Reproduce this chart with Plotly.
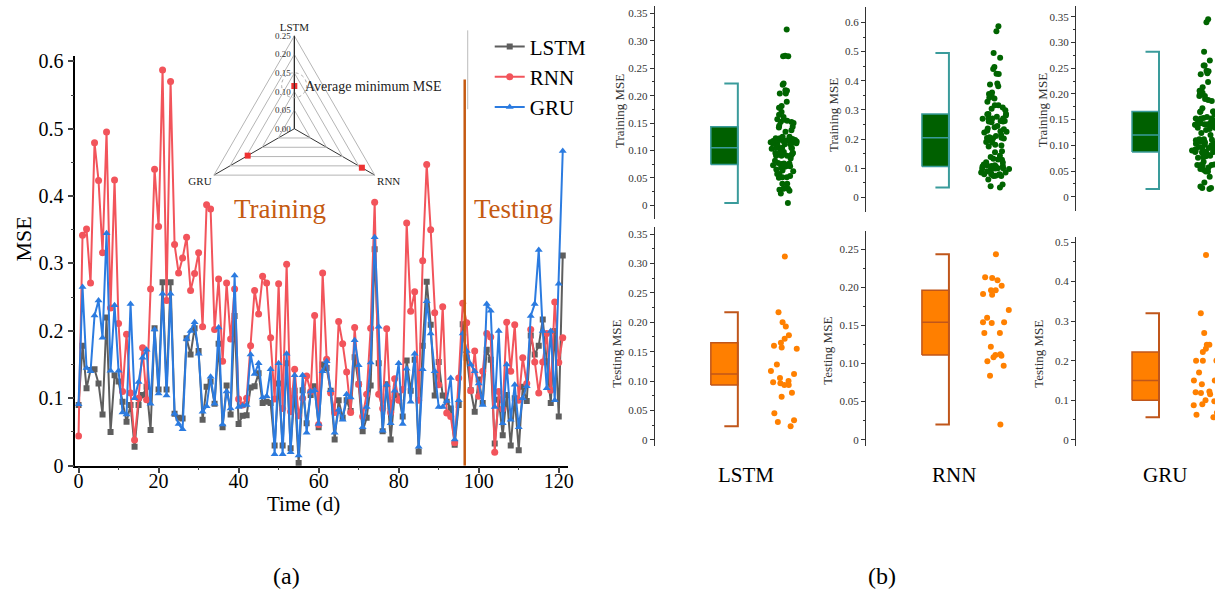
import numpy as np
import plotly.graph_objects as go

# ---------------- data ----------------
lstm_mse = [
    0.090, 0.178, 0.115, 0.142, 0.143, 0.122, 0.076, 0.220, 0.050, 0.134,
    0.125, 0.095, 0.065, 0.090, 0.028, 0.090, 0.105, 0.117, 0.053, 0.204,
    0.113, 0.272, 0.113, 0.272, 0.077, 0.071, 0.070, 0.189, 0.165, 0.204,
    0.170, 0.068, 0.117, 0.125, 0.092, 0.181, 0.057, 0.119, 0.076, 0.222,
    0.062, 0.074, 0.075, 0.116, 0.118, 0.137, 0.093, 0.095, 0.093, 0.030,
    0.122, 0.030, 0.152, 0.026, 0.111, 0.004, 0.112, 0.063, 0.105, 0.118,
    0.057, 0.150, 0.145, 0.111, 0.039, 0.097, 0.071, 0.097, 0.081, 0.161,
    0.121, 0.051, 0.071, 0.119, 0.321, 0.152, 0.051, 0.121, 0.039, 0.105,
    0.103, 0.073, 0.156, 0.111, 0.157, 0.021, 0.178, 0.273, 0.209, 0.104,
    0.154, 0.104, 0.095, 0.085, 0.031, 0.090, 0.210,
    0.160, 0.112, 0.080, 0.128, 0.093, 0.172, 0.157, 0.033, 0.098, 0.045,
    0.105, 0.030, 0.100, 0.023, 0.117, 0.096, 0.193, 0.165, 0.178, 0.217,
    0.155, 0.093, 0.200, 0.073, 0.312,
]
rnn_mse = [
    0.044, 0.342, 0.351, 0.271, 0.479, 0.423, 0.316, 0.495, 0.234, 0.424,
    0.211, 0.110, 0.195, 0.108, 0.038, 0.100, 0.175, 0.098, 0.262, 0.440,
    0.355, 0.587, 0.245, 0.570, 0.328, 0.286, 0.308, 0.339, 0.260, 0.285,
    0.316, 0.206, 0.387, 0.381, 0.202, 0.277, 0.155, 0.271, 0.188, 0.262,
    0.099, 0.090, 0.100, 0.178, 0.260, 0.225, 0.281, 0.271, 0.190, 0.099,
    0.270, 0.085, 0.299, 0.080, 0.143, 0.074, 0.100, 0.133, 0.110, 0.223,
    0.061, 0.286, 0.158, 0.108, 0.079, 0.214, 0.181, 0.139, 0.079, 0.205,
    0.121, 0.073, 0.106, 0.204, 0.391, 0.106, 0.085, 0.203, 0.079, 0.129,
    0.097, 0.113, 0.360, 0.229, 0.258, 0.097, 0.304, 0.447, 0.350, 0.227,
    0.120, 0.236, 0.078, 0.073, 0.034, 0.130, 0.241,
    0.212, 0.111, 0.170, 0.103, 0.140, 0.196, 0.191, 0.020, 0.110, 0.084,
    0.213, 0.140, 0.209, 0.097, 0.160, 0.122, 0.202, 0.154, 0.108, 0.154,
    0.196, 0.112, 0.243, 0.153, 0.190,
]
gru_mse = [
    0.091, 0.265, 0.145, 0.140, 0.223, 0.245, 0.190, 0.345, 0.141, 0.238,
    0.141, 0.079, 0.076, 0.240, 0.100, 0.124, 0.160, 0.172, 0.092, 0.202,
    0.107, 0.255, 0.104, 0.255, 0.077, 0.062, 0.054, 0.188, 0.200, 0.213,
    0.166, 0.080, 0.088, 0.132, 0.092, 0.205, 0.061, 0.110, 0.085, 0.282,
    0.087, 0.089, 0.090, 0.165, 0.136, 0.152, 0.101, 0.103, 0.143, 0.017,
    0.152, 0.017, 0.166, 0.020, 0.134, 0.015, 0.134, 0.049, 0.110, 0.112,
    0.062, 0.140, 0.155, 0.112, 0.049, 0.083, 0.068, 0.106, 0.101, 0.186,
    0.149, 0.057, 0.087, 0.153, 0.339, 0.206, 0.052, 0.120, 0.063, 0.111,
    0.152, 0.062, 0.144, 0.095, 0.166, 0.028, 0.143, 0.244, 0.196, 0.140,
    0.087, 0.087, 0.096, 0.130, 0.039, 0.097, 0.196,
    0.170, 0.150, 0.140, 0.122, 0.090, 0.240, 0.230, 0.087, 0.200, 0.063,
    0.150, 0.068, 0.120, 0.057, 0.100, 0.118, 0.222, 0.240, 0.320, 0.200,
    0.115, 0.200, 0.097, 0.270, 0.467,
]
days = list(range(len(lstm_mse)))
n_train = 97  # first 97 days training, remaining testing

model_names = ["LSTM", "RNN", "GRU"]
radar_models = ["LSTM", "RNN", "GRU"]
radar_avg_min_mse = [0.115, 0.210, 0.145]

x_ticks = [0, 20, 40, 60, 80, 100, 120]
y_ticks = [0, 0.1, 0.2, 0.3, 0.4, 0.5, 0.6]
y_ticklabels = ["0", "0.1", "0.2", "0.3", "0.4", "0.5", "0.6"]

# ---------------- helpers ----------------
W, H = 1221, 596
SERIF = "Liberation Serif, Times New Roman, serif"
# observed mapping of the viewer: rendered = A + B * planned
A_X, B_X = 0.5, 0.993
A_Y, B_Y = 6.6, 0.973


def clamp(v):
    return min(1.0, max(0.0, v))


def PX(x):
    return clamp(((x - A_X) / B_X) / W)


def PY(y):
    return clamp(1 - ((y - A_Y) / B_Y) / H)


def RX(p):  # paper -> rendered px
    return A_X + B_X * p * W


def RY(p):
    return A_Y + B_Y * (1 - p) * H


def label(x, y, text, size, color="black", angle=0):
    return dict(x=PX(x), y=PY(y), xref="paper", yref="paper", text=text,
                textangle=angle, showarrow=False, xanchor="center", yanchor="middle",
                font=dict(family=SERIF, size=size, color=color))


fig = go.Figure()

# ---------------- (a) line chart ----------------
series = [
    ("LSTM", lstm_mse, "#5e5e5e", "square", 6),
    ("RNN", rnn_mse, "#f2545b", "circle", 7),
    ("GRU", gru_mse, "#2b7be0", "triangle-up", 7),
]
for name, vals, col, sym, ms in series:
    fig.add_trace(go.Scatter(
        x=days, y=vals, name=name, mode="lines+markers",
        line=dict(color=col, width=2),
        marker=dict(symbol=sym, size=ms, color=col),
        xaxis="x", yaxis="y",
    ))

# x=0 at px 77, 4 px/day ; y=0 at px 467, 675 px per unit
fig.update_layout(
    xaxis=dict(
        domain=[PX(73.8), PX(565.8)], range=[-0.8, 122.2], anchor="y",
        tickvals=x_ticks, ticks="outside", ticklen=6, tickwidth=1.5,
        ticklabelstandoff=-9,
        minor=dict(dtick=10, tick0=0, ticks="outside", ticklen=3, tickwidth=1.2),
        showline=True, linecolor="black", linewidth=1.5, showgrid=False, zeroline=False,
        tickfont=dict(family=SERIF, size=20, color="black"),
    ),
    yaxis=dict(
        domain=[PY(467), PY(57)], range=[0, 0.6074], anchor="x",
        tickvals=y_ticks, ticktext=y_ticklabels, ticks="outside", ticklen=6, tickwidth=1.5,
        minor=dict(dtick=0.05, tick0=0, ticks="outside", ticklen=3, tickwidth=1.2),
        showline=True, linecolor="black", linewidth=1.5, showgrid=False, zeroline=False,
        tickfont=dict(family=SERIF, size=20, color="black"),
    ),
)

# ---------------- radar inset ----------------
fig.add_trace(go.Scatterpolar(
    r=radar_avg_min_mse, theta=radar_models, mode="markers",
    marker=dict(symbol="square", size=6, color="#ee3333"),
    showlegend=False, subplot="polar",
))
rc_x, rc_y, rr = 292.7, 129.5, 93
fig.update_layout(polar=dict(
    domain=dict(x=[PX(rc_x - rr), PX(rc_x + rr)], y=[PY(rc_y + rr), PY(rc_y - rr)]),
    gridshape="linear", bgcolor="rgba(0,0,0,0)",
    radialaxis=dict(
        range=[0, 0.25], tickvals=[0, 0.05, 0.10, 0.15, 0.20, 0.25],
        ticktext=["0.00", "0.05", "0.10", "0.15", "0.20", "0.25"],
        angle=90, side="counterclockwise", tickangle=90, ticks="",
        showline=True, linecolor="#222", linewidth=1,
        gridcolor="#b5b5b5", gridwidth=1,
        tickfont=dict(family=SERIF, size=9, color="#333"),
    ),
    angularaxis=dict(
        type="category", categoryarray=radar_models, rotation=90, direction="clockwise",
        showline=True, linecolor="#b5b5b5", linewidth=1,
        gridcolor="#333", gridwidth=1, ticks="",
        tickfont=dict(family=SERIF, size=11, color="#222"),
    ),
))

# ---------------- (b) box plots ----------------
col_axis_px = [653, 864, 1074]
col_width_px = [205, 205, 147]
box_off, box_w = 56, 27
pts_off, pts_w = 130, 32

rows = [
    dict(title="Training MSE", part=slice(0, n_train),
         fill="#006000", edge="#3a9b9b", med="#3a9b9b", pt="#006400",
         cols=[
             dict(top=7, bot=220, zero=206.0, ppu=548.0,
                  ticks=[0, 0.05, 0.10, 0.15, 0.20, 0.25, 0.30, 0.35],
                  labels=["0", "0.05", "0.10", "0.15", "0.20", "0.25", "0.30", "0.35"], tx=617, ty=112),
             dict(top=8, bot=213, zero=198.3, ppu=292.0,
                  ticks=[0, 0.1, 0.2, 0.3, 0.4, 0.5, 0.6],
                  labels=["0", "0.1", "0.2", "0.3", "0.4", "0.5", "0.6"], tx=831, ty=116),
             dict(top=7, bot=212, zero=197.7, ppu=515.4,
                  ticks=[0, 0.05, 0.10, 0.15, 0.20, 0.25, 0.30, 0.35],
                  labels=["0", "0.05", "0.10", "0.15", "0.20", "0.25", "0.30", "0.35"], tx=1040, ty=111),
         ]),
    dict(title="Testing MSE", part=slice(n_train, None),
         fill="#ff7f00", edge="#c0561a", med="#c0561a", pt="#ff8000",
         cols=[
             dict(top=228, bot=447, zero=441.0, ppu=588.0,
                  ticks=[0, 0.05, 0.10, 0.15, 0.20, 0.25, 0.30, 0.35],
                  labels=["0", "0.05", "0.10", "0.15", "0.20", "0.25", "0.30", "0.35"], tx=615, ty=355),
             dict(top=232, bot=447, zero=441.0, ppu=764.0,
                  ticks=[0, 0.05, 0.10, 0.15, 0.20, 0.25],
                  labels=["0", "0.05", "0.10", "0.15", "0.20", "0.25"], tx=826, ty=352),
             dict(top=238, bot=447, zero=441.0, ppu=396.0,
                  ticks=[0, 0.1, 0.2, 0.3, 0.4, 0.5],
                  labels=["0", "0.1", "0.2", "0.3", "0.4", "0.5"], tx=1037, ty=355),
         ]),
]
model_series = [lstm_mse, rnn_mse, gru_mse]


def box_stats(v):
    v = np.asarray(v, dtype=float)
    q1, med, q3 = np.percentile(v, [25, 50, 75])
    iqr = q3 - q1
    lo = v[v >= q1 - 1.5 * iqr].min()
    hi = v[v <= q3 + 1.5 * iqr].max()
    return q1, med, q3, lo, hi


annotations = []
ax_i = 2
for r_i, row in enumerate(rows):
    for c_i, spec in enumerate(row["cols"]):
        xa, ya = f"x{ax_i}", f"y{ax_i}"
        vals = model_series[c_i][row["part"]]
        q1, med, q3, lo, hi = box_stats(vals)
        bx0, bx1 = box_off, box_off + box_w
        bxc = (bx0 + bx1) / 2
        fig.add_trace(go.Scatter(
            x=[bx0, bx1, bx1, bx0, bx0], y=[q1, q1, q3, q3, q1], mode="lines",
            fill="toself", fillcolor=row["fill"], line=dict(color=row["edge"], width=1.5),
            showlegend=False, hoverinfo="skip", xaxis=xa, yaxis=ya))
        fig.add_trace(go.Scatter(
            x=[bx0, bx1], y=[med, med], mode="lines", line=dict(color=row["med"], width=1.5),
            showlegend=False, hoverinfo="skip", xaxis=xa, yaxis=ya))
        fig.add_trace(go.Scatter(
            x=[bxc, bx1, bx1, bxc], y=[lo, lo, hi, hi], mode="lines",
            line=dict(color=row["edge"], width=2),
            showlegend=False, hoverinfo="skip", xaxis=xa, yaxis=ya))
        fig.add_trace(go.Box(
            y=vals, x0=pts_off, width=pts_w, boxpoints="all", jitter=1.0, pointpos=0,
            fillcolor="rgba(0,0,0,0)", line=dict(color="rgba(0,0,0,0)", width=0),
            whiskerwidth=0, marker=dict(color=row["pt"], size=6),
            showlegend=False, hoverinfo="y", xaxis=xa, yaxis=ya))

        left = col_axis_px[c_i]
        wpx = col_width_px[c_i]
        dx0, dx1 = PX(left), PX(left + wpx)
        dy0, dy1 = PY(spec["bot"]), PY(spec["top"])
        rw = RX(dx1) - RX(dx0)
        r_top, r_bot = RY(dy1), RY(dy0)
        rng = [(spec["zero"] - r_bot) / spec["ppu"], (spec["zero"] - r_top) / spec["ppu"]]
        t = spec["ticks"]
        minor_vals = [(t[k] + t[k + 1]) / 2 for k in range(len(t) - 1)]
        fig.update_layout(**{
            f"xaxis{ax_i}": dict(domain=[dx0, dx1], range=[0, rw], anchor=ya, visible=False),
            f"yaxis{ax_i}": dict(domain=[dy0, dy1], range=rng,
                                 anchor=xa, tickvals=t, ticktext=spec["labels"],
                                 ticks="outside", ticklen=4, tickwidth=1, tickcolor="#333",
                                 minor=dict(tickvals=minor_vals, ticks="outside", ticklen=2,
                                            tickwidth=1, tickcolor="#333"),
                                 showline=True, linecolor="#333", linewidth=1,
                                 showgrid=False, zeroline=False,
                                 tickfont=dict(family=SERIF, size=11, color="#333")),
        })
        annotations.append(label(spec["tx"], spec["ty"], row["title"], 13, "#333", -90))
        ax_i += 1

for name, cx in zip(model_names, [744, 952, 1163]):
    annotations.append(label(cx, 476, name, 21))

# ---------------- texts ----------------
annotations += [
    label(22, 240, "MSE", 22, angle=-90),
    label(302, 505, "Time (d)", 21),
    label(285, 577, "(a)", 24),
    label(880, 577, "(b)", 24),
    label(278, 210, "Training", 27, "#c55a11"),
    label(512, 210, "Testing", 27, "#c55a11"),
    label(372, 87, "Average minimum MSE", 14, "#222"),
]

shapes = [
    dict(type="line", xref="x", yref="y", x0=n_train - 0.5, x1=n_train - 0.5,
         y0=0, y1=0.573, line=dict(color="#c55a11", width=2.5)),
    dict(type="line", xref="paper", yref="paper", x0=PX(466), x1=PX(466),
         y0=PY(110), y1=PY(31), line=dict(color="#bbbbbb", width=1)),
    dict(type="circle", xref="paper", yref="paper", x0=PX(280), x1=PX(305),
         y0=PY(98.5), y1=PY(73.5), line=dict(color="#aaaaaa", width=1, dash="dot")),
]

fig.update_layout(
    width=W, height=H, margin=dict(l=0, r=0, t=0, b=0),
    paper_bgcolor="white", plot_bgcolor="white",
    annotations=annotations, shapes=shapes,
    legend=dict(x=PX(488), y=PY(27), xanchor="left", yanchor="top",
                font=dict(family=SERIF, size=21, color="black"),
                bgcolor="rgba(0,0,0,0)", borderwidth=0, tracegroupgap=0),
    font=dict(family=SERIF),
)

fig.write_html("out.html")
